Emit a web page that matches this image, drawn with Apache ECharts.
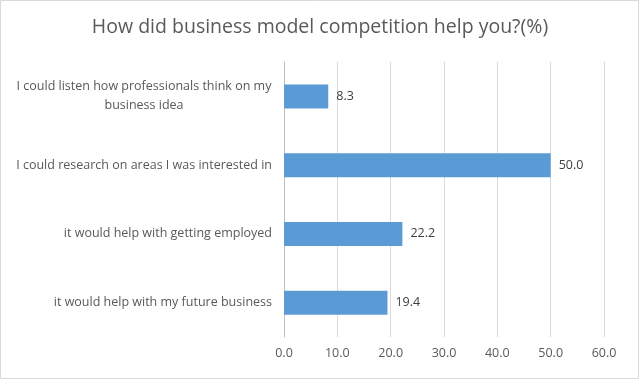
<!DOCTYPE html>
<html><head><meta charset="utf-8">
<script src="https://cdn.jsdelivr.net/npm/echarts@6/dist/echarts.min.js"></script>
<style>html,body{margin:0;padding:0;background:#fff}#c{width:640px;height:380px}</style>
</head><body><div id="c"></div>
<script>
const categories = [
  "I could listen how professionals think on my business idea",
  "I could research on areas I was interested in",
  "it would help with getting employed",
  "it would help with my future business"
];
const values = [8.3, 50.0, 22.2, 19.4];
const xTicks = [0, 10, 20, 30, 40, 50, 60];
const titleText = "How did business model competition help you?(%)";

const FONT = "'Open Sans', 'Liberation Sans', sans-serif";
const chart = echarts.init(document.getElementById('c'));
chart.setOption({
  animation: false,
  textStyle: { fontFamily: FONT },
  title: {
    text: titleText, left: 'center', top: 12,
    textStyle: { fontFamily: FONT, fontSize: 19.5, fontWeight: 'normal', color: '#595959' }
  },
  graphic: [{
    type: 'rect', shape: { x: 0.5, y: 0.5, width: 638, height: 378 },
    style: { fill: 'none', stroke: '#d9d9d9', lineWidth: 1 }, silent: true
  }],
  grid: { left: 284, right: 36, top: 62, bottom: 43 },
  xAxis: {
    type: 'value', min: xTicks[0], max: xTicks[xTicks.length - 1], interval: 10,
    axisLine: { show: false }, axisTick: { show: false },
    splitLine: { lineStyle: { color: '#d9d9d9' } },
    axisLabel: { color: '#595959', fontSize: 12.5, fontFamily: FONT, margin: 10,
      formatter: v => v.toFixed(1) }
  },
  yAxis: {
    type: 'category', data: categories, inverse: true,
    axisLine: { lineStyle: { color: '#bfbfbf' } }, axisTick: { show: false },
    axisLabel: {
      color: '#595959', fontSize: 12.5, fontFamily: FONT, margin: 12,
      formatter: v => {
        if (v === categories[0]) {
          return '{c|I could listen how professionals think on my}\n{c|business idea}';
        }
        return v;
      },
      rich: { c: { width: 256, align: 'center', fontSize: 12.5, color: '#595959', fontFamily: FONT, lineHeight: 19 } }
    }
  },
  series: [{
    type: 'bar', data: values, barWidth: 24,
    itemStyle: { color: '#5B9BD5' },
    label: { show: true, position: 'right', distance: 8, color: '#404040', fontSize: 12.5, fontFamily: FONT,
      formatter: p => p.value.toFixed(1) }
  }]
});
</script></body></html>
